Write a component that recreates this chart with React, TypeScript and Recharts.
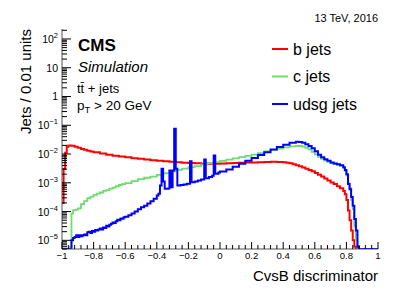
import React from 'react';
import { LineChart, Line, XAxis, YAxis } from 'recharts';

// ROOT-style CvsB discriminator plot, log y axis, histograms drawn as steps

const FONT = '"Liberation Sans", Arial, Helvetica, sans-serif';

const Y_MIN = 5e-6; // frame bottom, also used for empty bins
const Y_MAX = 222;

const X_MAJOR_TICKS = [-1, -0.8, -0.6, -0.4, -0.2, 0, 0.2, 0.4, 0.6, 0.8, 1];
const Y_DECADES = [1e-6, 1e-5, 1e-4, 1e-3, 1e-2, 1e-1, 1, 10, 100];

// b jets (red): bin low edges and contents
const bJetsEdges = [
  -1, -0.99, -0.98, -0.97, -0.96, -0.94, -0.92, -0.9, -0.88, -0.86, -0.84, -0.82, -0.8, -0.76, -0.72,
  -0.68, -0.64, -0.6, -0.56, -0.52, -0.48, -0.44, -0.4, -0.36, -0.32, -0.28, -0.24, -0.2, -0.16, -0.12,
  -0.08, -0.04, 0, 0.04, 0.08, 0.12, 0.16, 0.2, 0.24, 0.28, 0.32, 0.36, 0.4, 0.42, 0.44, 0.46, 0.48,
  0.5, 0.52, 0.54, 0.56, 0.58, 0.6, 0.62, 0.64, 0.66, 0.68, 0.7, 0.72, 0.74, 0.76, 0.78, 0.79, 0.8,
  0.81, 0.82, 0.83, 0.84, 0.85, 0.86, 1,
];
const bJetsValues = [
  2e-4, 3e-3, 1.1e-2, 1.8e-2, 2.0e-2, 1.95e-2, 1.8e-2, 1.65e-2, 1.5e-2, 1.4e-2, 1.3e-2, 1.22e-2, 1.15e-2, 1.05e-2, 9.5e-3,
  8.8e-3, 8.2e-3, 7.7e-3, 7.2e-3, 6.8e-3, 6.4e-3, 6.1e-3, 5.8e-3, 5.6e-3, 5.4e-3, 5.2e-3, 5.0e-3, 4.9e-3, 4.75e-3, 4.6e-3,
  4.6e-3, 4.6e-3, 4.7e-3, 4.8e-3, 4.9e-3, 5.0e-3, 5.05e-3, 5.1e-3, 5.2e-3, 5.3e-3, 5.35e-3, 5.3e-3, 5.15e-3, 5.0e-3, 4.75e-3, 4.45e-3, 4.1e-3,
  3.75e-3, 3.4e-3, 3.1e-3, 2.8e-3, 2.5e-3, 2.2e-3, 1.9e-3, 1.65e-3, 1.4e-3, 1.2e-3, 1.02e-3, 9e-4, 7.6e-4, 6.5e-4, 5.2e-4, 4e-4, 2.5e-4,
  1.1e-4, 5e-5, 2.2e-5, 1e-5, 6e-6, 5e-6, 5e-6,
];

// c jets (green)
const cJetsEdges = [
  -1, -0.95, -0.94, -0.93, -0.92, -0.9, -0.88, -0.86, -0.84, -0.82, -0.8, -0.78, -0.76, -0.74, -0.72,
  -0.7, -0.68, -0.66, -0.64, -0.62, -0.6, -0.56, -0.52, -0.48, -0.44, -0.4, -0.36, -0.32, -0.28, -0.24,
  -0.2, -0.16, -0.12, -0.08, -0.04, 0, 0.04, 0.08, 0.12, 0.16, 0.2, 0.24, 0.28, 0.32, 0.36, 0.4, 0.44,
  0.48, 0.5, 0.52, 0.54, 0.56, 0.58, 0.6, 0.62, 0.64, 0.66, 0.68, 0.7, 0.72, 0.74, 0.76, 0.78, 0.79,
  0.8, 0.81, 0.82, 0.83, 0.84, 0.85, 0.86, 0.87, 1,
];
const cJetsValues = [
  5e-6, 6e-6, 8.5e-5, 1.1e-4, 1.15e-4, 1.3e-4, 1.8e-4, 2.3e-4, 2.9e-4, 3.3e-4, 3.8e-4, 4.2e-4, 4.6e-4, 5.2e-4, 5.6e-4,
  6.3e-4, 6.8e-4, 7.6e-4, 8.4e-4, 9e-4, 9.8e-4, 1.15e-3, 1.35e-3, 1.5e-3, 1.65e-3, 1.9e-3, 2.15e-3, 2.5e-3, 2.8e-3, 3.1e-3,
  3.5e-3, 3.8e-3, 4.3e-3, 4.8e-3, 5.2e-3, 5.8e-3, 6.4e-3, 7.1e-3, 7.8e-3, 8.6e-3, 9.6e-3, 1.08e-2, 1.24e-2, 1.4e-2, 1.55e-2, 1.7e-2, 1.85e-2,
  1.92e-2, 1.9e-2, 1.8e-2, 1.65e-2, 1.45e-2, 1.2e-2, 9.8e-3, 8e-3, 6.8e-3, 5.9e-3, 5.3e-3, 4.8e-3, 4.5e-3, 4.2e-3, 3.9e-3, 3.3e-3, 2.6e-3,
  1.8e-3, 9.5e-4, 6.5e-4, 2.5e-4, 1.2e-4, 3e-5, 1e-5, 5e-6, 5e-6,
];

// udsg jets (blue)
const udsgJetsEdges = [
  -1, -0.94, -0.93, -0.92, -0.91, -0.9, -0.89, -0.88, -0.87, -0.86, -0.85, -0.84, -0.83, -0.82, -0.81,
  -0.8, -0.79, -0.78, -0.77, -0.76, -0.75, -0.74, -0.73, -0.72, -0.71, -0.7, -0.69, -0.68, -0.67, -0.66,
  -0.65, -0.64, -0.63, -0.62, -0.61, -0.6, -0.58, -0.56, -0.54, -0.52, -0.5, -0.48, -0.46, -0.44, -0.42,
  -0.4, -0.39, -0.38, -0.37, -0.36, -0.35, -0.34, -0.33, -0.32, -0.31, -0.3, -0.29, -0.28, -0.27, -0.25,
  -0.23, -0.21, -0.19, -0.18, -0.16, -0.14, -0.12, -0.1, -0.09, -0.07, -0.05, -0.04, -0.03, -0.01, 0,
  0.04, 0.08, 0.12, 0.16, 0.2, 0.24, 0.28, 0.32, 0.36, 0.4, 0.44, 0.48, 0.5, 0.52, 0.54, 0.56, 0.58,
  0.6, 0.62, 0.64, 0.66, 0.68, 0.7, 0.72, 0.74, 0.76, 0.78, 0.79, 0.8, 0.81, 0.82, 0.83, 0.84, 0.85,
  0.86, 0.87, 0.88, 1,
];
const udsgJetsValues = [
  5e-6, 1.0e-5, 1.2e-5, 1.3e-5, 1.5e-5, 1.3e-5, 1.5e-5, 1.4e-5, 1.5e-5, 1.6e-5, 1.5e-5, 1.9e-5, 2.0e-5, 1.8e-5, 2.1e-5,
  2.0e-5, 2.3e-5, 2.2e-5, 2.4e-5, 2.6e-5, 2.4e-5, 2.8e-5, 2.7e-5, 3.2e-5, 3.0e-5, 3.5e-5, 3.8e-5, 4.2e-5, 4.0e-5, 4.6e-5,
  5.2e-5, 5.0e-5, 5.8e-5, 5.6e-5, 6.3e-5, 6.6e-5, 7.4e-5, 8.5e-5, 1.0e-4, 1.2e-4, 1.4e-4, 1.6e-4, 1.9e-4, 2.3e-4, 2.8e-4,
  3.6e-4, 4.2e-4, 8e-4, 3.1e-3, 1.1e-3, 6.2e-4, 6.2e-4, 6.3e-4, 2.7e-3, 7e-4, 2.7e-3, 7.6e-2, 3.1e-3, 8.1e-4, 8.4e-4,
  8.8e-4, 9.3e-4, 5.6e-3, 1.05e-3, 1.1e-3, 1.2e-3, 1.3e-3, 6.5e-3, 1.45e-3, 1.6e-3, 1.75e-3, 8.9e-3, 2.05e-3, 2.3e-3, 2.45e-3,
  2.9e-3, 3.6e-3, 4.6e-3, 5.8e-3, 7.3e-3, 9.2e-3, 1.15e-2, 1.45e-2, 1.75e-2, 2.1e-2, 2.45e-2, 2.65e-2, 2.6e-2, 2.45e-2, 2.2e-2, 1.9e-2, 1.6e-2,
  1.25e-2, 9.5e-3, 7.8e-3, 6.6e-3, 5.8e-3, 5.1e-3, 4.7e-3, 4.4e-3, 4.1e-3, 3.5e-3, 2.8e-3, 2.0e-3, 9e-4, 6e-4, 3.2e-4, 1.6e-4, 5.5e-5,
  2.2e-5, 6e-6, 5e-6, 5e-6,
];

const toSteps = (edges: number[], values: number[]) => edges.map((x, i) => ({ x, y: values[i] }));

const bJetsData = toSteps(bJetsEdges, bJetsValues);
const cJetsData = toSteps(cJetsEdges, cJetsValues);
const udsgJetsData = toSteps(udsgJetsEdges, udsgJetsValues);

// 5 subdivisions between major x ticks
const xTicks = X_MAJOR_TICKS.slice(0, -1)
  .flatMap((m) => [0, 1, 2, 3, 4].map((k) => Math.round((m + k * 0.04) * 100) / 100))
  .concat(1);

// log axis: 1..9 inside each decade
const yTicks = Y_DECADES.flatMap((d) => [1, 2, 3, 4, 5, 6, 7, 8, 9].map((m) => m * d)).filter(
  (v) => v >= Y_MIN * 0.999 && v <= Y_MAX
);

const fmtX = (v: number) => (v < 0 ? '\u2212' + String(-v) : String(v));

function XTick(props: any) {
  const { x, y, payload } = props;
  const v = payload.value;
  const major = Math.abs(v * 5 - Math.round(v * 5)) < 1e-6;
  return (
    <g>
      <line x1={x} x2={x} y1={y} y2={y - (major ? 7 : 4)} stroke="#000" strokeWidth={1} />
      {major && (
        <text x={x} y={y + 10} textAnchor="middle" fontSize={9.5} fontFamily={FONT} fill="#000">
          {fmtX(v)}
        </text>
      )}
    </g>
  );
}

function YTick(props: any) {
  const { x, y, payload } = props;
  const lg = Math.log10(payload.value);
  const exp = Math.round(lg);
  const major = Math.abs(lg - exp) < 1e-6;
  return (
    <g>
      <line x1={x} x2={x + (major ? 9 : 5)} y1={y} y2={y} stroke="#000" strokeWidth={1} />
      {major && (
        <text x={x - 4} y={y + 4} textAnchor="end" fontSize={10.5} fontFamily={FONT} fill="#000">
          {exp === 0 ? '1' : '10'}
          {exp !== 0 && exp !== 1 && (
            <tspan dy={-5} fontSize={7.5}>
              {exp < 0 ? '\u2212' + String(-exp) : String(exp)}
            </tspan>
          )}
        </text>
      )}
    </g>
  );
}

const LEGEND = [
  { label: 'b jets', color: '#ff0000' },
  { label: 'c jets', color: '#6fdc6f' },
  { label: 'udsg jets', color: '#0000ff' },
];

export default function App() {
  return (
    <div style={{ position: 'absolute', left: 0, top: 0, width: 407, height: 293, background: '#fff' }}>
      <LineChart width={407} height={293} margin={{ top: 29, right: 29, bottom: 0, left: 0 }}>
        <XAxis
          xAxisId="bottom"
          dataKey="x"
          type="number"
          domain={[-1, 1]}
          allowDataOverflow
          ticks={xTicks}
          interval={0}
          height={44}
          tickSize={0}
          tickMargin={0}
          tickLine={false}
          axisLine={{ stroke: '#555' }}
          tick={(p: any) => <XTick {...p} />}
        />
        <XAxis
          xAxisId="top"
          orientation="top"
          type="number"
          domain={[-1, 1]}
          height={0}
          tick={false}
          tickLine={false}
          axisLine={{ stroke: '#555' }}
        />
        <YAxis
          yAxisId="left"
          type="number"
          scale="log"
          domain={[Y_MIN, Y_MAX]}
          allowDataOverflow
          ticks={yTicks}
          interval={0}
          width={62}
          tickSize={0}
          tickMargin={0}
          tickLine={false}
          axisLine={{ stroke: '#555' }}
          tick={(p: any) => <YTick {...p} />}
        />
        <YAxis
          yAxisId="right"
          orientation="right"
          type="number"
          domain={[0, 1]}
          width={0}
          tick={false}
          tickLine={false}
          axisLine={{ stroke: '#555' }}
        />
        <Line
          xAxisId="bottom"
          yAxisId="left"
          data={bJetsData}
          dataKey="y"
          type="stepAfter"
          stroke="#ff0000"
          strokeWidth={2}
          dot={false}
          isAnimationActive={false}
        />
        <Line
          xAxisId="bottom"
          yAxisId="left"
          data={cJetsData}
          dataKey="y"
          type="stepAfter"
          stroke="#6fdc6f"
          strokeWidth={1.8}
          dot={false}
          isAnimationActive={false}
        />
        <Line
          xAxisId="bottom"
          yAxisId="left"
          data={udsgJetsData}
          dataKey="y"
          type="stepAfter"
          stroke="#0000ff"
          strokeWidth={2}
          dot={false}
          isAnimationActive={false}
        />
      </LineChart>
      <svg
        width={407}
        height={293}
        style={{ position: 'absolute', left: 0, top: 0, pointerEvents: 'none' }}
        fontFamily={FONT}
      >
        <text x={378} y={22} textAnchor="end" fontSize={11}>
          13 TeV, 2016
        </text>
        <text x={78} y={51} fontSize={17} fontWeight="bold">
          CMS
        </text>
        <text x={78} y={72} fontSize={15} fontStyle="italic">
          Simulation
        </text>
        <text x={77} y={93} fontSize={13}>
          {'tt\u0304 + jets'}
        </text>
        <text x={77} y={110} fontSize={13.5}>
          p
          <tspan dy={3} fontSize={9.5}>
            T
          </tspan>
          <tspan dy={-3}> &gt; 20 GeV</tspan>
        </text>
        {LEGEND.map((item, i) => (
          <g key={item.label}>
            <line x1={272} x2={288} y1={49 + i * 27.5} y2={49 + i * 27.5} stroke={item.color} strokeWidth={2} />
            <text x={293} y={54.5 + i * 27.5} fontSize={16}>
              {item.label}
            </text>
          </g>
        ))}
        <text x={378} y={281} textAnchor="end" fontSize={15}>
          CvsB discriminator
        </text>
        <text transform="translate(31,29) rotate(-90)" textAnchor="end" fontSize={15}>
          Jets / 0.01 units
        </text>
      </svg>
    </div>
  );
}
